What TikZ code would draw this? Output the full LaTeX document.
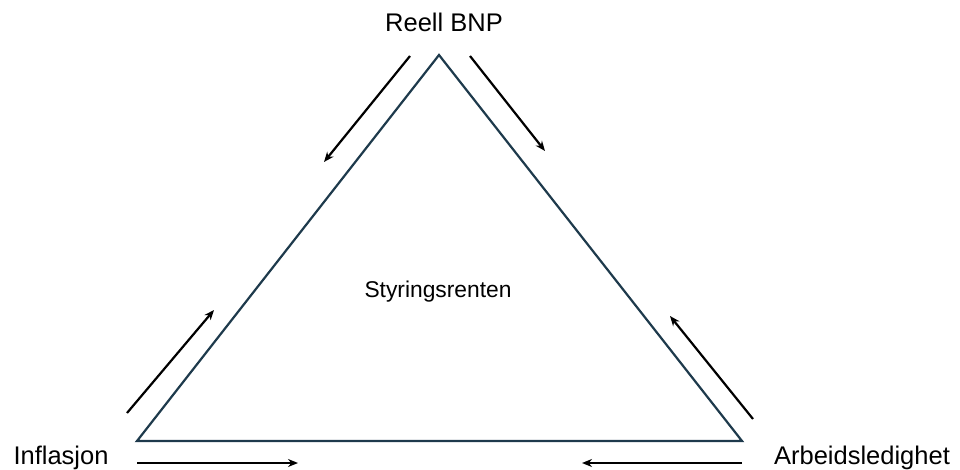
\documentclass[tikz,border=0pt]{standalone}
\usepackage{fontspec}
\setmainfont{Liberation Sans}
\usetikzlibrary{arrows.meta}
\definecolor{triline}{HTML}{1E3A4C}
\begin{document}
\begin{tikzpicture}[x=1pt,y=-1pt,
  lbl/.style={anchor=base,inner sep=0pt,font=\fontsize{25.5}{28}\selectfont},
  midlbl/.style={anchor=base,inner sep=0pt,font=\fontsize{22.8}{25}\selectfont},
  tri/.style={draw=triline,line width=2.2pt,line join=miter},
  flow/.style={draw=black,line width=2.2pt,-{Stealth[length=10pt,width=8pt]}}]
\useasboundingbox (0,0) rectangle (960,470);
% triangle
\coordinate (A) at (439,55);
\coordinate (B) at (137,441);
\coordinate (C) at (742,441);
\draw[tri] (A) -- (B) -- (C) -- cycle;
% labels
\node[lbl] (bnp) at (444,32) {Reell BNP};
\node[lbl] (infl) at (61,464) {Inflasjon};
\node[lbl] (arb) at (862,464) {Arbeidsledighet};
\node[midlbl] (styr) at (438,297) {Styringsrenten};
% arrows
\coordinate (a1s) at (410,56); \coordinate (a1e) at (324,162);
\coordinate (a2s) at (470,56); \coordinate (a2e) at (545,151);
\coordinate (a3s) at (127,413); \coordinate (a3e) at (214,310);
\coordinate (a4s) at (753,419); \coordinate (a4e) at (670,316);
\coordinate (a5s) at (137,463); \coordinate (a5e) at (298,463);
\coordinate (a6s) at (742,463); \coordinate (a6e) at (582,463);
\draw[flow] (a1s) -- (a1e);
\draw[flow] (a2s) -- (a2e);
\draw[flow] (a3s) -- (a3e);
\draw[flow] (a4s) -- (a4e);
\draw[flow] (a5s) -- (a5e);
\draw[flow] (a6s) -- (a6e);
\end{tikzpicture}
\end{document}
